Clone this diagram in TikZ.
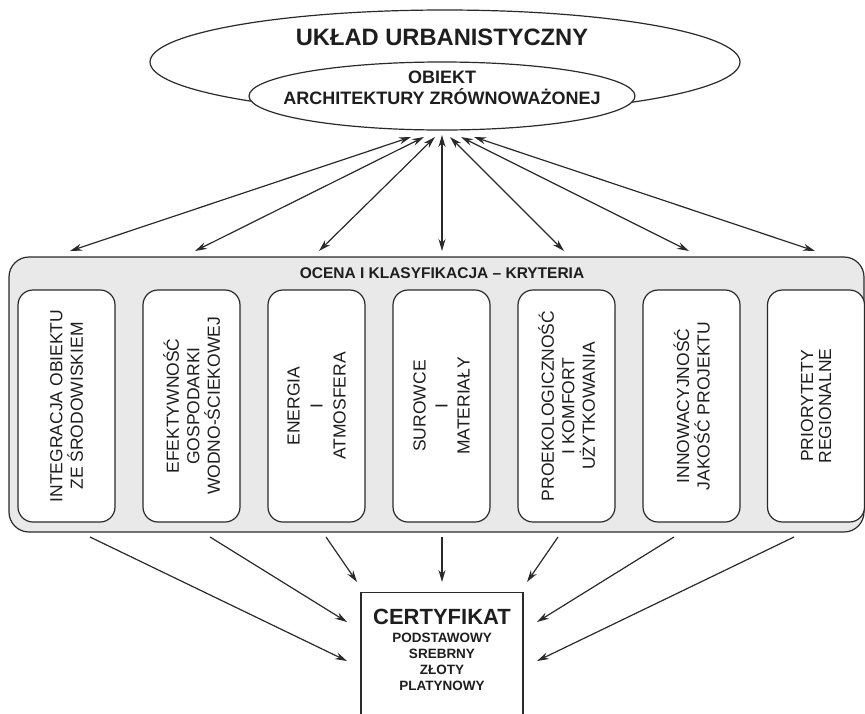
\documentclass[tikz,border=0pt]{standalone}
\usepackage{fontspec}
\setmainfont{Liberation Sans}
\usetikzlibrary{arrows.meta,shapes.geometric}
\definecolor{ink}{HTML}{2A2A2A}
\definecolor{txt}{HTML}{1E1E1E}
\definecolor{panelgray}{HTML}{E9E9E9}
\tikzset{
  line/.style={draw=ink,line width=1.2pt},
  ell/.style={line,ellipse,fill=white,inner sep=0pt},
  crit/.style={line,fill=white,rounded corners=15pt,minimum width=97pt,minimum height=232pt,inner sep=0pt},
  crittext/.style={rotate=90,align=center,text=txt,font=\fontsize{17.5}{20.5}\selectfont},
  twoway/.style={line,{Stealth[length=12pt,width=7pt]}-{Stealth[length=12pt,width=7pt]},shorten <=0pt,shorten >=0pt},
  oneway/.style={line,-{Stealth[length=12pt,width=7pt]}},
}
\begin{document}
\begin{tikzpicture}[x=1pt,y=1pt]
\clip (0,0) rectangle (865,-713);
\fill[white] (0,0) rectangle (865,-713);

% urban layout and the sustainable building inside it
\node[ell,minimum width=590pt,minimum height=104pt] (urban) at (445,-62) {};
\node[ell,minimum width=386pt,minimum height=68pt] (object) at (442,-96) {};
\node[text=txt,font=\bfseries\fontsize{23.7}{26}\selectfont] (urbantitle) at (442,-37) {UKŁAD URBANISTYCZNY};
\node[text=txt,align=center,font=\bfseries\fontsize{18}{21}\selectfont] (objecttitle) at (442,-88) {OBIEKT\\ARCHITEKTURY ZRÓWNOWAŻONEJ};

% assessment panel
\draw[line,fill=panelgray,rounded corners=20pt] (9,-257) rectangle (864,-532);
\node[text=txt,font=\bfseries\fontsize{15.5}{18}\selectfont] (paneltitle) at (442,-273) {OCENA I KLASYFIKACJA – KRYTERIA};

% criteria
\node[crit] (k1) at (66.5,-406) {};
\node[crit] (k2) at (191.5,-406) {};
\node[crit] (k3) at (316.5,-406) {};
\node[crit] (k4) at (441.5,-406) {};
\node[crit] (k5) at (566.5,-406) {};
\node[crit] (k6) at (691.5,-406) {};
\node[crit] (k7) at (816,-406) {};
\node[crittext] (t1) at (k1) {INTEGRACJA OBIEKTU\\ZE ŚRODOWISKIEM};
\node[crittext] (t2) at (k2) {EFEKTYWNOŚĆ\\GOSPODARKI\\WODNO-ŚCIEKOWEJ};
\node[crittext,font=\fontsize{17.5}{23}\selectfont] (t3) at (k3) {ENERGIA\\I\\ATMOSFERA};
\node[crittext,font=\fontsize{17.5}{22}\selectfont] (t4) at (k4) {SUROWCE\\I\\MATERIAŁY};
\node[crittext] (t5) at (k5) {PROEKOLOGICZNOŚĆ\\I KOMFORT\\UŻYTKOWANIA};
\node[crittext] (t6) at (k6) {INNOWACYJNOŚĆ\\JAKOŚĆ PROJEKTU};
\node[crittext,font=\fontsize{17.5}{18}\selectfont] (t7) at (k7) {PRIORYTETY\\REGIONALNE};

% certificate
\node[line,fill=white,minimum width=162pt,minimum height=140pt,anchor=north] (cert) at (442,-592) {};
\node[text=txt,font=\bfseries\fontsize{22}{24}\selectfont] (certtitle) at (442,-617) {CERTYFIKAT};
\node[text=txt,align=center,font=\bfseries\fontsize{13.5}{16}\selectfont,anchor=north] (levels) at (442,-630) {PODSTAWOWY\\SREBRNY\\ZŁOTY\\PLATYNOWY};

% ends of the two-way links
\coordinate (u1) at (411,-137); \coordinate (d1) at (70,-251);
\coordinate (u2) at (424,-137); \coordinate (d2) at (195,-251);
\coordinate (u3) at (435,-137); \coordinate (d3) at (319,-251);
\coordinate (u4) at (442,-135); \coordinate (d4) at (442,-251);
\coordinate (u5) at (450,-137); \coordinate (d5) at (564,-251);
\coordinate (u6) at (461,-137); \coordinate (d6) at (689,-251);
\coordinate (u7) at (474,-137); \coordinate (d7) at (815,-251);
\foreach \i in {1,...,7} {\draw[twoway] (u\i) -- (d\i);}

% links from the panel to the certificate
\coordinate (s1) at (90,-537);  \coordinate (c1) at (347,-661);
\coordinate (s2) at (210,-537); \coordinate (c2) at (347,-622);
\coordinate (s3) at (326,-537); \coordinate (c3) at (357,-582);
\coordinate (s4) at (442,-537); \coordinate (c4) at (442,-582);
\coordinate (s5) at (558,-537); \coordinate (c5) at (527,-582);
\coordinate (s6) at (674,-537); \coordinate (c6) at (537,-622);
\coordinate (s7) at (794,-537); \coordinate (c7) at (537,-661);
\foreach \i in {1,...,7} {\draw[oneway] (s\i) -- (c\i);}
\end{tikzpicture}
\end{document}
